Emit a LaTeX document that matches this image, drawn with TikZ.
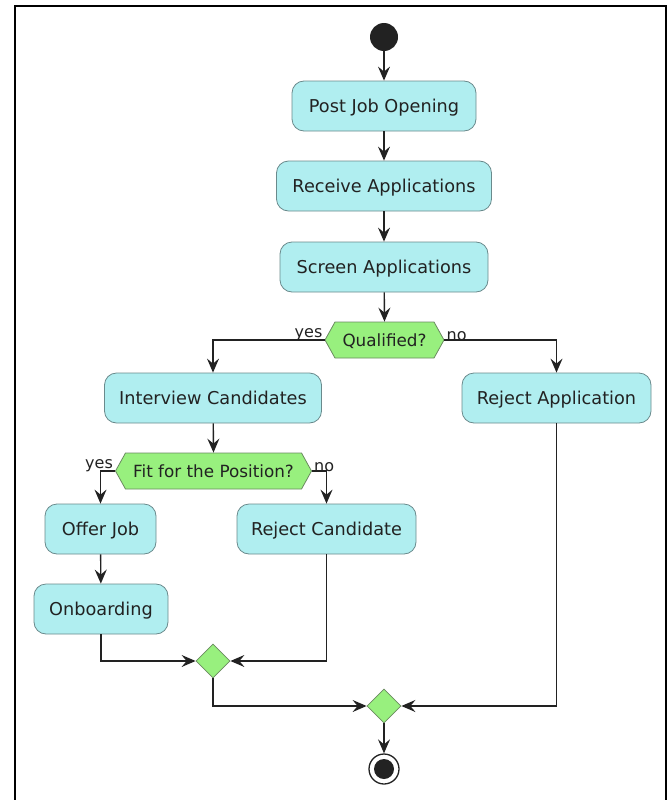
\documentclass[tikz,border=0pt]{standalone}
\usepackage{fontspec}
\setmainfont{DejaVu Sans}
\usetikzlibrary{arrows.meta,shapes.symbols,shapes.geometric}
\definecolor{actfill}{HTML}{B0EEF0}
\definecolor{actline}{HTML}{6A8A8C}
\definecolor{decfill}{HTML}{98F07E}
\definecolor{decline}{HTML}{6A8A60}
\definecolor{ink}{HTML}{222222}
\begin{document}
\begin{tikzpicture}[x=1pt,y=-1pt,
 act/.style={draw=actline, line width=0.8pt, fill=actfill, rounded corners=12pt, minimum height=50pt, inner xsep=2pt, text height=12.9pt, text depth=0pt, font=\fontsize{17.7}{20}\selectfont, text=ink},
 hex/.style={signal, signal to=west and east, signal pointer angle=122, draw=decline, line width=0.8pt, fill=decfill, minimum height=36pt, inner xsep=2pt, inner ysep=2pt, text height=12.3pt, text depth=0pt, font=\fontsize{16.8}{19}\selectfont, text=ink},
 merge/.style={diamond, draw=decline, line width=0.8pt, fill=decfill, minimum width=34pt, minimum height=34pt, inner sep=0pt},
 flow/.style={draw=ink, line width=1.4pt, -{Stealth[length=14pt,width=12pt,inset=5pt]}},
 lbl/.style={font=\fontsize{16}{18}\selectfont, inner sep=1pt, text=ink}
]
\useasboundingbox (0,0) rectangle (669,800);
\draw[line width=2pt, black] (15,820) -- (15,6) -- (666,6) -- (666,820);

\node[circle, fill=ink, minimum size=28pt, inner sep=0pt] (start) at (384,37) {};
\node[act, minimum width=184pt] (post) at (384,106) {Post Job Opening};
\node[act, minimum width=215pt] (recv) at (384,186) {Receive Applications};
\node[act, minimum width=208pt] (screen) at (384,267) {Screen Applications};
\node[hex, minimum width=119pt] (qual) at (384.5,340) {Qualified?};
\node[act, minimum width=217pt] (interview) at (213,398) {Interview Candidates};
\node[act, minimum width=189pt] (rejapp) at (556.5,398) {Reject Application};
\node[hex, minimum width=196pt] (fit) at (213.5,471) {Fit for the Position?};
\node[act, minimum width=111pt] (offer) at (100.5,529) {Offer Job};
\node[act, minimum width=179pt] (rejcand) at (326.5,529) {Reject Candidate};
\node[act, minimum width=134pt] (onboard) at (101,609) {Onboarding};
\node[merge] (m1) at (213,661) {};
\node[merge] (m2) at (384,706) {};
\node[circle, draw=ink, line width=1.3pt, fill=white, minimum size=30pt, inner sep=0pt] (finish) at (384,769) {};
\node[circle, fill=ink, minimum size=20pt, inner sep=0pt] (finishdot) at (finish.center) {};

\draw[flow] (start) -- (post);
\draw[flow] (post) -- (recv);
\draw[flow] (recv) -- (screen);
\draw[flow] (screen) -- (qual.north);
\draw[flow] (qual.west) -| (interview.north);
\draw[flow] (qual.east) -| (rejapp.north);
\node[lbl, anchor=south east] (qyes) at ([xshift=-1pt,yshift=-2pt]qual.west) {yes};
\node[lbl, anchor=south west] (qno) at ([xshift=1pt,yshift=-2pt]qual.east) {no};
\draw[flow] (interview) -- (fit.north);
\draw[flow] (fit.west) -| (offer.north);
\draw[flow] (fit.east) -| (rejcand.north);
\node[lbl, anchor=south east] (fyes) at ([xshift=-1pt,yshift=-2pt]fit.west) {yes};
\node[lbl, anchor=south west] (fno) at ([xshift=1pt,yshift=-2pt]fit.east) {no};
\draw[flow] (offer) -- (onboard);
\draw[flow] (onboard.south) |- (m1.west);
\draw[flow] (rejcand.south) |- (m1.east);
\draw[flow] (m1.south) |- (m2.west);
\draw[flow] (rejapp.south) |- (m2.east);
\draw[flow] (m2.south) -- (finish);
\end{tikzpicture}
\end{document}
